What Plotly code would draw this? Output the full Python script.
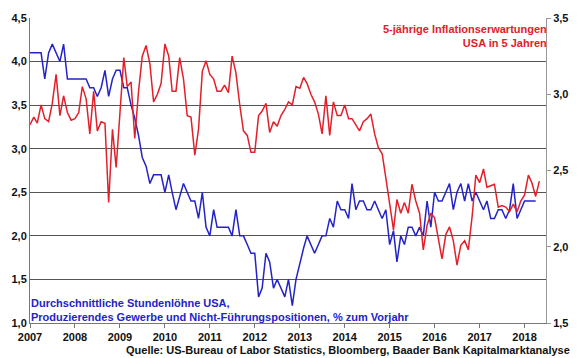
import pandas as pd
import plotly.graph_objects as go

# Durchschnittliche Stundenlöhne USA (linke Achse), monatlich ab Jan 2007
wages = [
    4.1, 4.1, 4.1, 4.1, 3.8, 4.1, 4.2, 4.1, 4.0, 4.2, 3.8, 3.8,
    3.8, 3.8, 3.8, 3.8, 3.7, 3.7, 3.6, 3.7, 3.9, 3.6, 3.8, 3.9,
    3.9, 3.7, 3.7, 3.5, 3.35, 3.15, 2.9, 2.8, 2.6, 2.7, 2.7, 2.7,
    2.5, 2.7, 2.5, 2.3, 2.45, 2.6, 2.5, 2.4, 2.4, 2.2, 2.5, 2.1,
    2.0, 2.3, 2.1, 2.1, 2.1, 2.1, 2.0, 2.3, 2.0, 2.0, 1.9, 1.8,
    1.8, 1.3, 1.4, 1.8, 1.7, 1.4, 1.5, 1.4, 1.3, 1.5, 1.2, 1.5,
    1.7, 1.86, 2.0, 1.9, 1.8, 1.9, 2.0, 2.0, 2.2, 2.1, 2.4, 2.3,
    2.3, 2.2, 2.6, 2.3, 2.4, 2.4, 2.3, 2.3, 2.4, 2.3, 2.2, 2.3,
    1.9, 2.06, 1.7, 2.0, 1.9, 2.1, 2.1, 2.0, 2.1, 2.0, 2.4, 2.1,
    2.5, 2.4, 2.4, 2.5, 2.6, 2.3, 2.5, 2.6, 2.4, 2.6, 2.4, 2.5,
    2.4, 2.3, 2.4, 2.2, 2.2, 2.3, 2.3, 2.2, 2.3, 2.6, 2.2, 2.3,
    2.4, 2.4, 2.4, 2.4,
]

# 5-jährige Inflationserwartungen USA in 5 Jahren (rechte Achse), monatlich ab Jan 2007
infl = [
    2.80, 2.85, 2.81, 2.93, 2.84, 2.82, 2.94, 3.13, 2.86, 2.99, 2.88, 2.83,
    2.84, 2.88, 3.05, 2.97, 2.74, 3.02, 2.76, 2.82, 2.81, 2.29, 2.77, 2.52,
    2.88, 3.24, 3.05, 3.08, 2.71, 3.02, 3.25, 3.32, 3.20, 2.95, 3.00, 3.07,
    3.33, 3.25, 3.02, 3.02, 3.24, 3.10, 2.86, 2.85, 2.60, 2.77, 3.15, 3.22,
    3.13, 3.10, 3.02, 3.02, 3.06, 3.01, 3.25, 3.14, 2.93, 2.76, 2.73, 2.62,
    2.62, 2.86, 2.89, 2.94, 2.75, 2.82, 2.79, 2.86, 2.90, 2.95, 2.93, 3.05,
    3.04, 3.11, 3.07, 3.00, 2.95, 2.87, 2.74, 2.99, 2.73, 2.95, 2.86, 2.86,
    2.93, 2.84, 2.84, 2.80, 2.76, 2.82, 2.84, 2.87, 2.74, 2.65, 2.61, 2.45,
    2.28, 2.11, 2.31, 2.22, 2.29, 2.22, 2.41, 2.30, 2.22, 1.98, 2.14, 2.22,
    2.19, 2.06, 1.92, 2.08, 2.13, 2.04, 1.88, 2.01, 2.04, 1.98, 2.20, 2.47,
    2.42, 2.51, 2.39, 2.40, 2.41, 2.26, 2.27, 2.26, 2.23, 2.28, 2.23, 2.30,
    2.34, 2.47, 2.42, 2.33, 2.43,
]

wage_dates = pd.date_range("2007-01-01", periods=len(wages), freq="MS")
infl_dates = pd.date_range("2007-01-01", periods=len(infl), freq="MS")

left_ticks = [1.0, 1.5, 2.0, 2.5, 3.0, 3.5, 4.0, 4.5]
right_ticks = [1.5, 2.0, 2.5, 3.0, 3.5]

BLUE = "#2323C8"
RED = "#E2202A"
FONT = "Liberation Sans, Arial, sans-serif"
tickfont = dict(family=FONT, size=11, color="#111111", weight="bold")

fig = go.Figure()
fig.add_trace(go.Scatter(x=wage_dates, y=wages, mode="lines",
                         line=dict(color=BLUE, width=1.5), yaxis="y"))
fig.add_trace(go.Scatter(x=infl_dates, y=infl, mode="lines",
                         line=dict(color=RED, width=1.5), yaxis="y2"))

fig.update_layout(
    width=580, height=358,
    margin=dict(l=26, r=28, t=15, b=35),
    paper_bgcolor="white", plot_bgcolor="white",
    showlegend=False,
    separators=",.",
    xaxis=dict(
        type="date", range=["2007-01-01", "2018-06-24"],
        dtick="M12", tick0="2007-01-01", tickformat="%Y",
        ticks="outside", ticklen=4, tickcolor="#777777",
        showgrid=False, showline=True, linecolor="#777777", linewidth=1,
        tickfont=tickfont, zeroline=False,
    ),
    yaxis=dict(
        range=[1.0, 4.5], tickvals=left_ticks, tickformat=".1f",
        showgrid=True, gridcolor="#555555", gridwidth=1,
        showline=True, linecolor="#777777", linewidth=1,
        ticks="", tickfont=tickfont, zeroline=False,
    ),
    yaxis2=dict(
        range=[1.5, 3.5], tickvals=right_ticks, tickformat=".1f",
        overlaying="y", side="right", showgrid=False,
        showline=True, linecolor="#999999", linewidth=1,
        ticks="outside", ticklen=4, tickcolor="#999999",
        tickfont=tickfont, zeroline=False,
    ),
    annotations=[
        dict(xref="paper", yref="paper", x=-0.002, y=-0.008,
             xanchor="left", yanchor="bottom", align="left", showarrow=False,
             text="Durchschnittliche Stundenlöhne USA,<br>Produzierendes Gewerbe und Nicht-Führungspositionen, % zum Vorjahr",
             font=dict(family=FONT, size=11, color=BLUE, weight="bold")),
        dict(xref="paper", yref="paper", x=1.006, y=0.99,
             xanchor="right", yanchor="top", align="right", showarrow=False,
             text="5-jährige Inflationserwartungen<br>USA in 5 Jahren",
             font=dict(family=FONT, size=11, color=RED, weight="bold")),
        dict(xref="paper", yref="paper", x=1.05, y=-0.088,
             xanchor="right", yanchor="middle", align="right", showarrow=False,
             text="Quelle: US-Bureau of Labor Statistics, Bloomberg, Baader Bank Kapitalmarktanalyse",
             font=dict(family=FONT, size=11, color="#111111", weight="bold")),
    ],
)

fig.write_html("out.html", config={"displayModeBar": False},
               post_script="document.body.style.margin='0';document.body.style.overflow='hidden';")
